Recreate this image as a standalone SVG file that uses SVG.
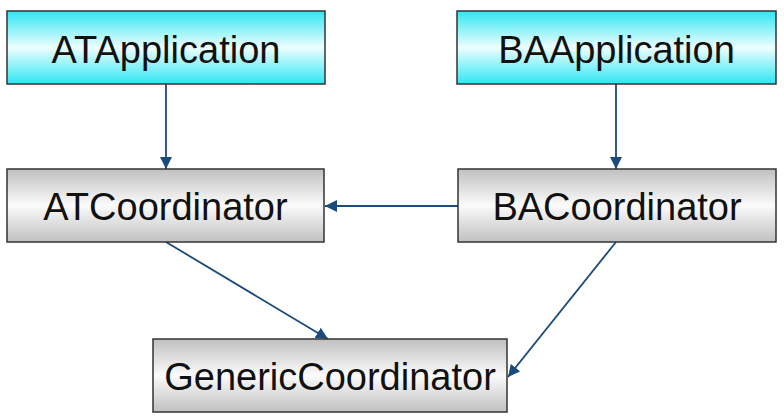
<svg xmlns="http://www.w3.org/2000/svg" width="784" height="416" viewBox="0 0 784 416">
<defs>
<linearGradient id="cyan" x1="0" y1="0" x2="0" y2="1">
<stop offset="0" stop-color="#2fe6f2"/>
<stop offset="0.5" stop-color="#eefeff"/>
<stop offset="1" stop-color="#2fe6f2"/>
</linearGradient>
<linearGradient id="gray" x1="0" y1="0" x2="0" y2="1">
<stop offset="0" stop-color="#c0c0c0"/>
<stop offset="0.5" stop-color="#fbfbfb"/>
<stop offset="1" stop-color="#c0c0c0"/>
</linearGradient>
<marker id="arr" viewBox="0 0 12 12" refX="12" refY="6" markerWidth="12" markerHeight="12" markerUnits="userSpaceOnUse" orient="auto">
<path d="M0,0 L12,6 L0,12 z" fill="#1b4a7c"/>
</marker>
</defs>
<style>
.box{stroke:#333;stroke-width:1.5}
.c{fill:url(#cyan)}
.g{fill:url(#gray)}
text{font-family:"Liberation Sans",Arial,sans-serif;font-size:38px;fill:#111;text-anchor:middle}
.e{stroke:#1b4a7c;stroke-width:1.8;fill:none;marker-end:url(#arr)}
</style>
<g id="connectors">
<line class="e" x1="166" y1="84" x2="166" y2="169"/>
<line class="e" x1="616" y1="84" x2="616" y2="169"/>
<line class="e" x1="458" y1="206" x2="325" y2="206"/>
<line class="e" x1="166" y1="242" x2="328" y2="339"/>
<line class="e" x1="616" y1="242" x2="508" y2="377"/>
</g>
<g id="ATApplication"><rect class="box c" x="7" y="11" width="318" height="73"/><text x="166" y="63">ATApplication</text></g>
<g id="BAApplication"><rect class="box c" x="457" y="11" width="319" height="73"/><text x="616.5" y="63">BAApplication</text></g>
<g id="ATCoordinator"><rect class="box g" x="7" y="169" width="317" height="73"/><text x="165.5" y="220">ATCoordinator</text></g>
<g id="BACoordinator"><rect class="box g" x="458" y="169" width="318" height="73"/><text x="617" y="220">BACoordinator</text></g>
<g id="GenericCoordinator"><rect class="box g" x="153" y="339" width="354" height="73"/><text x="330" y="390">GenericCoordinator</text></g>
</svg>
